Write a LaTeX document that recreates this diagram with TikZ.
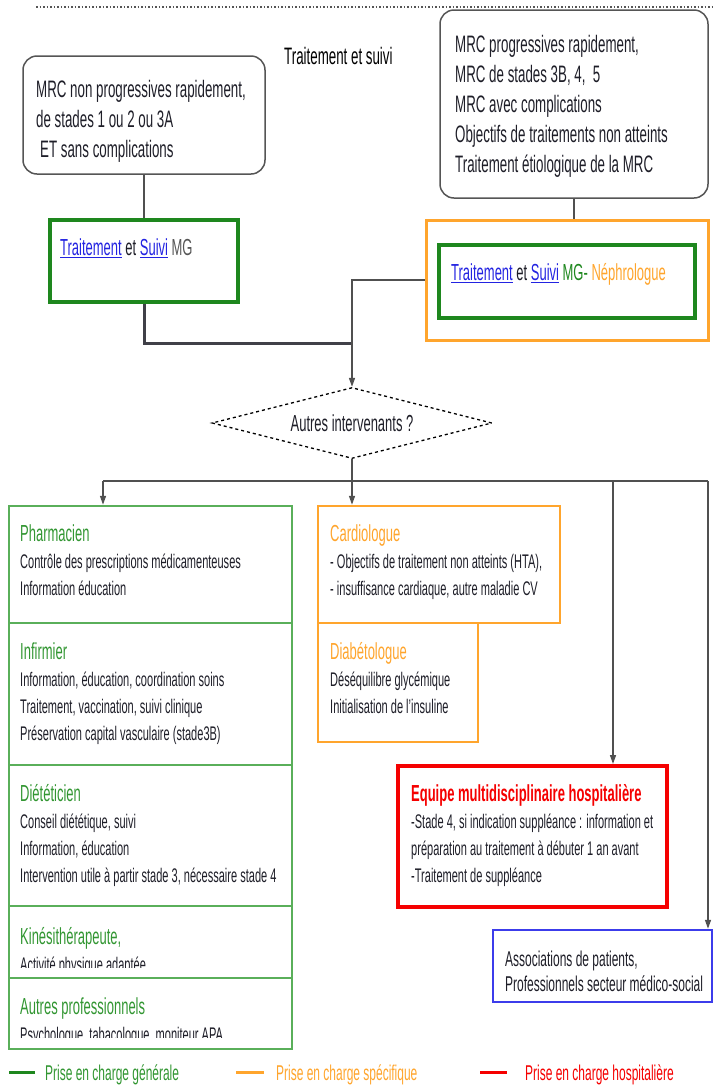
\documentclass[tikz,border=0pt]{standalone}
\usepackage{fontspec}
\setmainfont{Liberation Sans}[FakeStretch=0.56]
\usepackage{tikz}
\usetikzlibrary{shapes.geometric,arrows.meta}
\definecolor{mggreen}{RGB}{30,135,30}
\definecolor{lowgreen}{RGB}{90,175,90}
\definecolor{headgreen}{RGB}{50,150,50}
\definecolor{specorange}{RGB}{255,165,45}
\definecolor{hospred}{RGB}{245,0,0}
\definecolor{assoblue}{RGB}{60,60,235}
\definecolor{linkblue}{RGB}{35,35,225}
\definecolor{boxgray}{RGB}{85,85,85}
\definecolor{linegray}{RGB}{80,80,80}
\definecolor{inkgray}{RGB}{30,30,40}
\newcommand{\bigtxt}{\fontsize{23.8}{30}\selectfont}
\newcommand{\headtxt}{\fontsize{23.2}{27}\selectfont}
\newcommand{\smalltxt}{\fontsize{19.7}{27}\selectfont}
\newcommand{\assotxt}{\fontsize{21.4}{25}\selectfont}
\tikzset{rounded/.style={draw=boxgray, line width=1.5pt, rounded corners=14pt}}
\tikzset{mgbox/.style={draw=mggreen, line width=3.5pt}}
\tikzset{general/.style={draw=lowgreen, line width=2.5pt}}
\tikzset{specific/.style={draw=specorange, line width=2.5pt}}
\tikzset{hospital/.style={draw=hospred, line width=4pt}}
\tikzset{asso/.style={draw=assoblue, line width=2.5pt}}
\tikzset{link/.style={draw=linegray, line width=1.5pt}}
\tikzset{arrow/.style={link, -{Triangle[length=9pt,width=6pt]}}}
\tikzset{txt/.style={anchor=north west, align=left, text=inkgray, execute at begin node=\strut}}
\tikzset{lbl/.style={anchor=base west}}

\begin{document}
\begin{tikzpicture}[x=1pt, y=-1pt]
	% Default action for each node
	\tikzstyle{every node}=[inner sep=0pt];
	\useasboundingbox (0,0) rectangle (713,1085);

	% TOP
	\draw[boxgray, line width=1.5pt, dash pattern=on 1.5pt off 2pt] (36,7) -- (713,7);
	\node[lbl, font=\bigtxt] (title) at (284,64) {Traitement et suivi};

	\node[rounded, minimum width=242, minimum height=118] (lhs box) at (144,115) {};
	\node[rounded, minimum width=268, minimum height=188] (rhs box) at (574,104) {};
	\node[txt, font=\bigtxt] (lhs text) at (36,80) {MRC non progressives rapidement,\\de stades 1 ou 2 ou 3A\\\hspace{4pt}ET sans complications};
	\node[txt, font=\bigtxt] (rhs text) at (455,35) {MRC progressives rapidement,\\MRC de stades 3B, 4,\ \ 5\\MRC avec complications\\Objectifs de traitements non atteints\\Traitement étiologique de la MRC};

	\node[mgbox, minimum width=188, minimum height=82] (lhs mg) at (144,261) {};
	\node[specific, line width=3pt, minimum width=282, minimum height=120] (rhs spec) at (567,280) {};
	\node[mgbox, minimum width=256, minimum height=73] (rhs mg) at (567,281.5) {};
	\node[txt, font=\headtxt] (lhs mg text) at (60,236) {\textcolor{linkblue}{\underline{Traitement}} et \textcolor{linkblue}{\underline{Suivi}} \textcolor{boxgray}{MG}};
	\node[txt, font=\headtxt] (rhs mg text) at (451,261) {\textcolor{linkblue}{\underline{Traitement}} et \textcolor{linkblue}{\underline{Suivi}} \textcolor{mggreen}{MG-} \textcolor{specorange}{Néphrologue}};

	% QUESTION
	\node[draw, line width=1.3pt, dashed, shape=diamond, aspect=3.94, minimum width=280, minimum height=71, font=\headtxt, text=inkgray] (question) at (352,423) {Autres intervenants ?};
	\coordinate (merge) at (352,343);

	% BUS
	\coordinate (bus west) at (103,481);	\coordinate (bus hosp) at (613,481);	\coordinate (bus east) at (708,481);

	% LHS stack
	\node[general, minimum width=283, minimum height=117] (pharma) at (150.5,564.5) {};
	\node[general, minimum width=283, minimum height=142] (infirm) at (150.5,694) {};
	\node[general, minimum width=283, minimum height=141] (diet) at (150.5,835.5) {};
	\node[general, minimum width=283, minimum height=72] (kine) at (150.5,942) {};
	\node[general, minimum width=283, minimum height=71] (autres) at (150.5,1013.5) {};

	\node[txt, font=\smalltxt] (pharma text) at (20,524) {\textcolor{headgreen}{\headtxt Pharmacien}\\Contrôle des prescriptions médicamenteuses\\Information éducation};
	\node[txt, font=\smalltxt] (infirm text) at (20,642) {\textcolor{headgreen}{\headtxt Infirmier}\\Information, éducation, coordination soins\\Traitement, vaccination, suivi clinique\\Préservation capital vasculaire (stade3B)};
	\node[txt, font=\smalltxt] (diet text) at (20,784) {\textcolor{headgreen}{\headtxt Diététicien}\\Conseil diététique, suivi\\Information, éducation\\Intervention utile à partir stade 3, nécessaire stade 4};
	\begin{scope}
		\clip (12,908) rectangle (289,967);
		\node[txt, font=\smalltxt] (kine text) at (20,927) {\textcolor{headgreen}{\headtxt Kinésithérapeute,}\\Activité physique adaptée};
	\end{scope}
	\begin{scope}
		\clip (12,980) rectangle (289,1037);
		\node[txt, font=\smalltxt] (autres text) at (20,997) {\textcolor{headgreen}{\headtxt Autres professionnels}\\Psychologue, tabacologue, moniteur APA};
	\end{scope}

	% MIDDLE
	\node[specific, minimum width=242, minimum height=117] (cardio) at (439,564.5) {};
	\node[specific, minimum width=160, minimum height=119] (diabeto) at (398,682.5) {};
	\node[txt, font=\smalltxt] (cardio text) at (330,524) {\textcolor{specorange}{\headtxt Cardiologue}\\- Objectifs de traitement non atteints (HTA),\\- insuffisance cardiaque, autre maladie CV};
	\node[txt, font=\smalltxt] (diabeto text) at (330,642) {\textcolor{specorange}{\headtxt Diabétologue}\\Déséquilibre glycémique\\Initialisation de l'insuline};

	% RHS
	\node[hospital, minimum width=269, minimum height=141] (hosp) at (532.5,836.5) {};
	\node[asso, minimum width=219, minimum height=72] (asso) at (602.5,966) {};
	\node[txt, font=\smalltxt] (hosp text) at (411,784) {\textcolor{hospred}{\headtxt\bfseries Equipe multidisciplinaire hospitalière}\\-Stade 4, si indication suppléance : information et\\préparation au traitement à débuter 1 an avant\\-Traitement de suppléance};
	\node[txt, font=\assotxt] (asso text) at (505,950.5) {Associations de patients,\\Professionnels secteur médico-social};

	% Verticals
	\draw[link] (lhs box) -- (lhs mg);
	\draw[link] (rhs box.south) -- (rhs box.south |- rhs spec.north);
	\draw[link, line width=3pt, draw=inkgray!85] (lhs mg.south) |- (merge);
	\draw[arrow] (rhs spec.west) -| (question.north);
	\draw[arrow] (question.south) -- (question.south |- cardio.north);
	\draw[arrow] (bus west) -- (bus west |- pharma.north);
	\draw[arrow] (bus hosp) -- (bus hosp |- hosp.north);
	\draw[arrow] (bus east) -- (bus east |- asso.north);

	% Horizontals
	\draw[link] (bus west) -- (bus east);

	% Legend
	\coordinate (leg gen west) at (9,1072);		\coordinate (leg gen east) at (35,1072);
	\coordinate (leg spec west) at (236,1072);	\coordinate (leg spec east) at (264,1072);
	\coordinate (leg hosp west) at (480,1072);	\coordinate (leg hosp east) at (507,1072);
	\draw[mggreen, line width=3pt] (leg gen west) -- (leg gen east);
	\draw[specorange, line width=3pt] (leg spec west) -- (leg spec east);
	\draw[hospred, line width=3pt] (leg hosp west) -- (leg hosp east);
	\node[lbl, font=\assotxt, text=headgreen] (leg gen) at (45,1080) {Prise en charge générale};
	\node[lbl, font=\assotxt, text=specorange] (leg spec) at (276,1080) {Prise en charge spécifique};
	\node[lbl, font=\assotxt, text=hospred] (leg hosp) at (525,1080) {Prise en charge hospitalière};
\end{tikzpicture}
\end{document}
